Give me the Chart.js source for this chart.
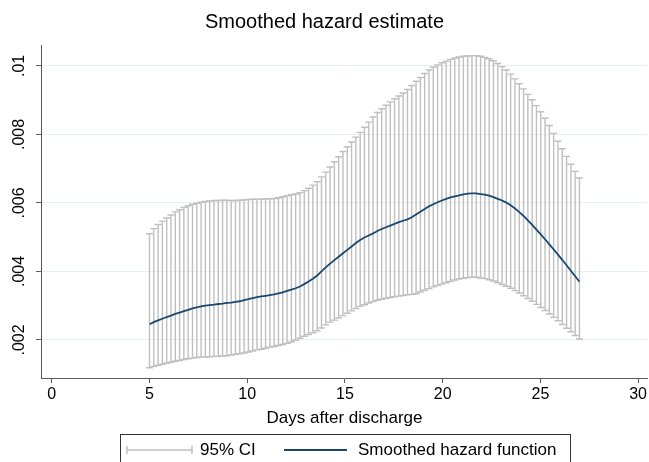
<!DOCTYPE html>
<html>
<head>
<meta charset="utf-8">
<script src="https://cdn.jsdelivr.net/npm/chart.js@4/dist/chart.umd.min.js"></script>
<style>
  html, body { margin: 0; padding: 0; background: #fff; }
  #wrap { width: 649px; height: 462px; }
</style>
</head>
<body>
<div id="wrap"><canvas id="myChart" width="649" height="462"></canvas></div>
<script>
// days after discharge
var days = [5, 5.22, 5.44, 5.66, 5.88, 6.1, 6.32, 6.54, 6.76, 6.98, 7.2, 7.42, 7.64, 7.86, 8.08, 8.3, 8.52, 8.74, 8.96, 9.18,
  9.4, 9.62, 9.84, 10.06, 10.28, 10.5, 10.72, 10.94, 11.16, 11.38, 11.6, 11.82, 12.04, 12.26, 12.48, 12.7, 12.92, 13.14, 13.36, 13.58,
  13.8, 14.02, 14.24, 14.46, 14.68, 14.9, 15.12, 15.34, 15.56, 15.78, 16, 16.22, 16.44, 16.66, 16.88, 17.1, 17.32, 17.54, 17.76, 17.98,
  18.2, 18.42, 18.64, 18.86, 19.08, 19.3, 19.52, 19.74, 19.96, 20.18, 20.4, 20.62, 20.84, 21.06, 21.28, 21.5, 21.72, 21.94, 22.16, 22.38,
  22.6, 22.82, 23.04, 23.26, 23.48, 23.7, 23.92, 24.14, 24.36, 24.58, 24.8, 25.02, 25.24, 25.46, 25.68, 25.9, 26.12, 26.34, 26.56, 26.78, 27];

var hazard = [.00246,.00252,.00257,.00262,.00267,.00271,.00276,.0028,.00284,.00288,.00292,.00295,.00298,.003,.00302,.00303,.00305,.00306,.00308,.00309,
  .00311,.00313,.00316,.00319,.00322,.00325,.00327,.00329,.00331,.00333,.00336,.00339,.00343,.00347,.00351,.00356,.00363,.00371,.00379,.00388,
  .004,.00412,.00423,.00433,.00443,.00453,.00463,.00473,.00483,.00492,.00499,.00505,.00511,.00518,.00524,.00529,.00534,.00539,.00544,.00548,
  .00552,.00558,.00566,.00574,.00582,.0059,.00596,.00602,.00607,.00612,.00616,.00619,.00622,.00625,.00627,.00628,.00628,.00626,.00624,.00621,
  .00617,.00612,.00607,.00601,.00593,.00584,.00573,.00562,.00549,.00536,.00522,.00508,.00494,.00479,.00464,.00449,.00434,.00418,.00402,.00386,.0037];

var ciUpper = [.0051,.00525,.00537,.00547,.00556,.00565,.00574,.0058,.00587,.00592,.00596,.00599,.00602,.00604,.00606,.00607,.00607,.00608,.00608,.00607,
  .00607,.00608,.00609,.0061,.00611,.00611,.00611,.00612,.00612,.00613,.00615,.00618,.00621,.00624,.00626,.0063,.00636,.00643,.00652,.00662,
  .00676,.0069,.00705,.0072,.00735,.0075,.00764,.00778,.00792,.00806,.00821,.00836,.00851,.00864,.00875,.00885,.00895,.00904,.00912,.00921,
  .00931,.00943,.00955,.00966,.00978,.00988,.00997,.01003,.01009,.01014,.01019,.01023,.01026,.01028,.01029,.0103,.0103,.01028,.01025,.01021,
  .01015,.01007,.00998,.00988,.00976,.00962,.00948,.00933,.00917,.00901,.00884,.00866,.00847,.00826,.00803,.0078,.00758,.00736,.00713,.00692,.00673];

var ciLower = [.00119,.00123,.00126,.00129,.00132,.00135,.00138,.0014,.00143,.00145,.00147,.00149,.0015,.0015,.00151,.00152,.00152,.00153,.00154,.00156,
  .00158,.0016,.00162,.00165,.00168,.00171,.00173,.00176,.00179,.00181,.00184,.00187,.0019,.00194,.00199,.00205,.00211,.00216,.00221,.00227,
  .00235,.00244,.00252,.00258,.00264,.00271,.00278,.00285,.00292,.00298,.00303,.00308,.00312,.00316,.00319,.00322,.00324,.00326,.00328,.0033,
  .00332,.00333,.00335,.0034,.00345,.0035,.00355,.00359,.00363,.00367,.00371,.00375,.00378,.0038,.00382,.00383,.00383,.00381,.00379,.00376,
  .00372,.00367,.00362,.00357,.00351,.00344,.00337,.00329,.00321,.00313,.00304,.00295,.00286,.00276,.00266,.00256,.00245,.00234,.00224,.00213,.00203];

var xTicks = [0, 5, 10, 15, 20, 25, 30];
var yTicks = [.002, .004, .006, .008, .01];
var yTickLabels = [".002", ".004", ".006", ".008", ".01"];
var legendLabels = ["95% CI", "Smoothed hazard function"];

var FONT = "'Liberation Sans', Arial, sans-serif";
var NAVY = "#1a476f";
var CI_GRAY = "#bfbfbf";
var AXIS = "#5a5a5a";

var hazardPoints = [];
for (var i = 0; i < days.length; i++) {
  hazardPoints.push({x: days[i], y: hazard[i]});
}

// draws the rcap bars, y labels, x title and legend box
var extras = {
  id: 'extras',
  beforeDatasetsDraw: function(chart) {
    var ctx = chart.ctx;
    var xs = chart.scales.x, ys = chart.scales.y;
    ctx.save();
    ctx.strokeStyle = CI_GRAY;
    ctx.lineWidth = 1.4;
    for (var i = 0; i < days.length; i++) {
      var px = xs.getPixelForValue(days[i]);
      var top = ys.getPixelForValue(ciUpper[i]);
      var bot = ys.getPixelForValue(ciLower[i]);
      ctx.beginPath();
      ctx.moveTo(px, top); ctx.lineTo(px, bot);
      ctx.moveTo(px - 3.5, top); ctx.lineTo(px + 3.5, top);
      ctx.moveTo(px - 3.5, bot); ctx.lineTo(px + 3.5, bot);
      ctx.stroke();
    }
    ctx.restore();
  },
  afterDraw: function(chart) {
    var ctx = chart.ctx;
    var ys = chart.scales.y;
    ctx.save();
    ctx.fillStyle = "#000";
    ctx.font = "16px " + FONT;
    ctx.textAlign = "center";
    ctx.textBaseline = "middle";
    for (var i = 0; i < yTicks.length; i++) {
      var py = ys.getPixelForValue(yTicks[i]);
      ctx.save();
      ctx.translate(20, py);
      ctx.rotate(-Math.PI / 2);
      ctx.fillText(yTickLabels[i], 0, 0);
      ctx.restore();
    }
    // x axis title
    ctx.font = "17px " + FONT;
    ctx.fillText("Days after discharge", (chart.chartArea.left + chart.chartArea.right) / 2 + 0.5, 418);

    // legend
    ctx.strokeStyle = "#333";
    ctx.lineWidth = 1;
    ctx.strokeRect(120.5, 434.5, 450, 40);
    ctx.strokeStyle = CI_GRAY;
    ctx.lineWidth = 1.4;
    ctx.beginPath();
    ctx.moveTo(127, 450); ctx.lineTo(192, 450);
    ctx.moveTo(127, 446); ctx.lineTo(127, 454);
    ctx.moveTo(192, 446); ctx.lineTo(192, 454);
    ctx.stroke();
    ctx.strokeStyle = NAVY;
    ctx.lineWidth = 1.8;
    ctx.beginPath();
    ctx.moveTo(284, 450); ctx.lineTo(347, 450);
    ctx.stroke();
    ctx.textAlign = "left";
    ctx.fillStyle = "#000";
    ctx.fillText(legendLabels[0], 200, 450);
    ctx.fillText(legendLabels[1], 358, 450);
    ctx.restore();
  }
};

var ctx = document.getElementById('myChart').getContext('2d');
var chart = new Chart(ctx, {
  type: 'line',
  data: {
    datasets: [{
      label: legendLabels[1],
      data: hazardPoints,
      borderColor: NAVY,
      borderWidth: 1.8,
      pointRadius: 0,
      fill: false,
      tension: 0
    }]
  },
  options: {
    responsive: false,
    animation: false,
    events: [],
    layout: { padding: 0 },
    plugins: {
      legend: { display: false },
      tooltip: { enabled: false },
      title: {
        display: true,
        text: 'Smoothed hazard estimate',
        color: '#000',
        font: { family: FONT, size: 20, weight: 'normal' },
        padding: { top: 10, bottom: 11 }
      }
    },
    scales: {
      x: {
        type: 'linear',
        min: -0.55,
        max: 30.46,
        afterBuildTicks: function(scale) {
          scale.ticks = xTicks.map(function(v) { return {value: v}; });
        },
        afterFit: function(scale) { scale.height = 84; },
        grid: { drawOnChartArea: false, drawTicks: true, tickLength: 5, tickColor: AXIS },
        border: { color: AXIS, width: 1 },
        ticks: {
          color: '#000',
          padding: 2,
          maxRotation: 0,
          font: { family: FONT, size: 16 }
        }
      },
      y: {
        type: 'linear',
        min: 0.00089,
        max: 0.01061,
        afterBuildTicks: function(scale) {
          scale.ticks = yTicks.map(function(v) { return {value: v}; });
        },
        afterFit: function(scale) { scale.width = 41; },
        grid: { color: '#e6eff1', lineWidth: 1, drawTicks: true, tickLength: 5, tickColor: AXIS },
        border: { color: AXIS, width: 1 },
        ticks: { display: false }
      }
    }
  },
  plugins: [extras]
});
</script>
</body>
</html>
